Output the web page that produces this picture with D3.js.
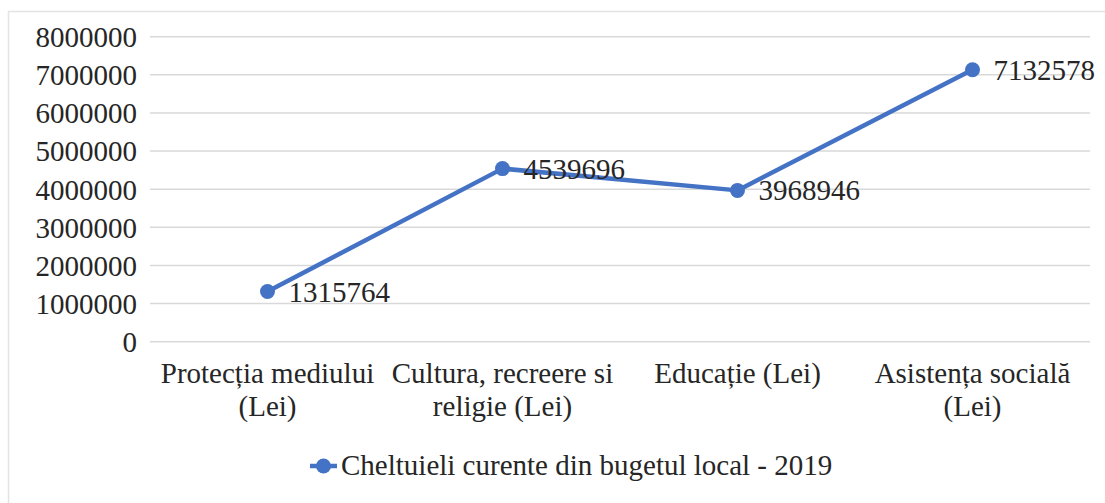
<!DOCTYPE html>
<html>
<head>
<meta charset="utf-8">
<script src="https://cdn.jsdelivr.net/npm/d3@7"></script>
</head>
<body style="margin:0;padding:0;background:#fff">
<svg id="lc" width="1105" height="503" style="display:block"></svg>
<script>
const categories = [
  ["Protecția mediului", "(Lei)"],
  ["Cultura, recreere si", "religie (Lei)"],
  ["Educație (Lei)"],
  ["Asistența socială", "(Lei)"]
];
const values = [1315764, 4539696, 3968946, 7132578];
const yTicks = [0, 1000000, 2000000, 3000000, 4000000, 5000000, 6000000, 7000000, 8000000];
const seriesName = "Cheltuieli curente din bugetul local - 2019";

const color = "#4472C4";
const fontSize = 29;
const TEXTCOL = "#262626";
const svg = d3.select("#lc");

function styleText(sel) {
  return sel.attr("font-family", "Liberation Serif")
    .style("font-family", "Liberation Serif", "important")
    .attr("font-size", fontSize)
    .attr("fill", TEXTCOL);
}

// outer chart border (left and top visible)
svg.append("rect")
  .attr("x", 8.5).attr("y", 11.5)
  .attr("width", 1200).attr("height", 600)
  .attr("fill", "none").attr("stroke", "#e3e3e3").attr("stroke-width", 1.5);

const plot = { left: 150, right: 1090, top: 36.7, bottom: 341.7 };

const x = d3.scaleBand()
  .domain(d3.range(categories.length))
  .range([plot.left, plot.right])
  .paddingInner(0).paddingOuter(0);

const y = d3.scaleLinear()
  .domain([0, 8000000])
  .range([plot.bottom, plot.top]);

// gridlines
svg.append("g")
  .selectAll("line")
  .data(yTicks)
  .join("line")
  .attr("x1", plot.left).attr("x2", plot.right)
  .attr("y1", d => y(d)).attr("y2", d => y(d))
  .attr("stroke", "#d9d9d9").attr("stroke-width", 1.5);

// y tick labels
const yAxis = d3.axisLeft(y).tickValues(yTicks).tickSize(0).tickPadding(0).tickFormat(d3.format("d"));
const gy = svg.append("g").attr("transform", `translate(${plot.left - 13},0)`).call(yAxis);
gy.select(".domain").remove();
gy.attr("font-family", "Liberation Serif").attr("font-size", fontSize);
styleText(gy.selectAll("text")).attr("dy", "0.34em");

// x category labels
const xl = svg.append("g");
categories.forEach((lines, i) => {
  const t = styleText(xl.append("text"))
    .attr("text-anchor", "middle")
    .attr("x", x(i) + x.bandwidth() / 2)
    .attr("y", 383);
  lines.forEach((ln, j) => {
    t.append("tspan")
      .attr("x", x(i) + x.bandwidth() / 2)
      .attr("dy", j === 0 ? 0 : 33)
      .text(ln);
  });
});

// line
const line = d3.line()
  .x((d, i) => x(i) + x.bandwidth() / 2)
  .y(d => y(d));

svg.append("path")
  .datum(values)
  .attr("d", line)
  .attr("fill", "none")
  .attr("stroke", color)
  .attr("stroke-width", 4.5)
  .attr("stroke-linejoin", "round");

svg.append("g")
  .selectAll("circle")
  .data(values)
  .join("circle")
  .attr("cx", (d, i) => x(i) + x.bandwidth() / 2)
  .attr("cy", d => y(d))
  .attr("r", 7.5)
  .attr("fill", color);

// data labels
styleText(svg.append("g")
  .selectAll("text")
  .data(values)
  .join("text"))
  .attr("x", (d, i) => x(i) + x.bandwidth() / 2 + 21)
  .attr("y", d => y(d) + 10)
  .text(d => d);

// legend
const lg = svg.append("g");
lg.append("line")
  .attr("x1", 310).attr("x2", 337)
  .attr("y1", 466).attr("y2", 466)
  .attr("stroke", color).attr("stroke-width", 4.5);
lg.append("circle")
  .attr("cx", 323.5).attr("cy", 466).attr("r", 7.5).attr("fill", color);
styleText(lg.append("text"))
  .attr("x", 341).attr("y", 475)
  .text(seriesName);
</script>
</body>
</html>
